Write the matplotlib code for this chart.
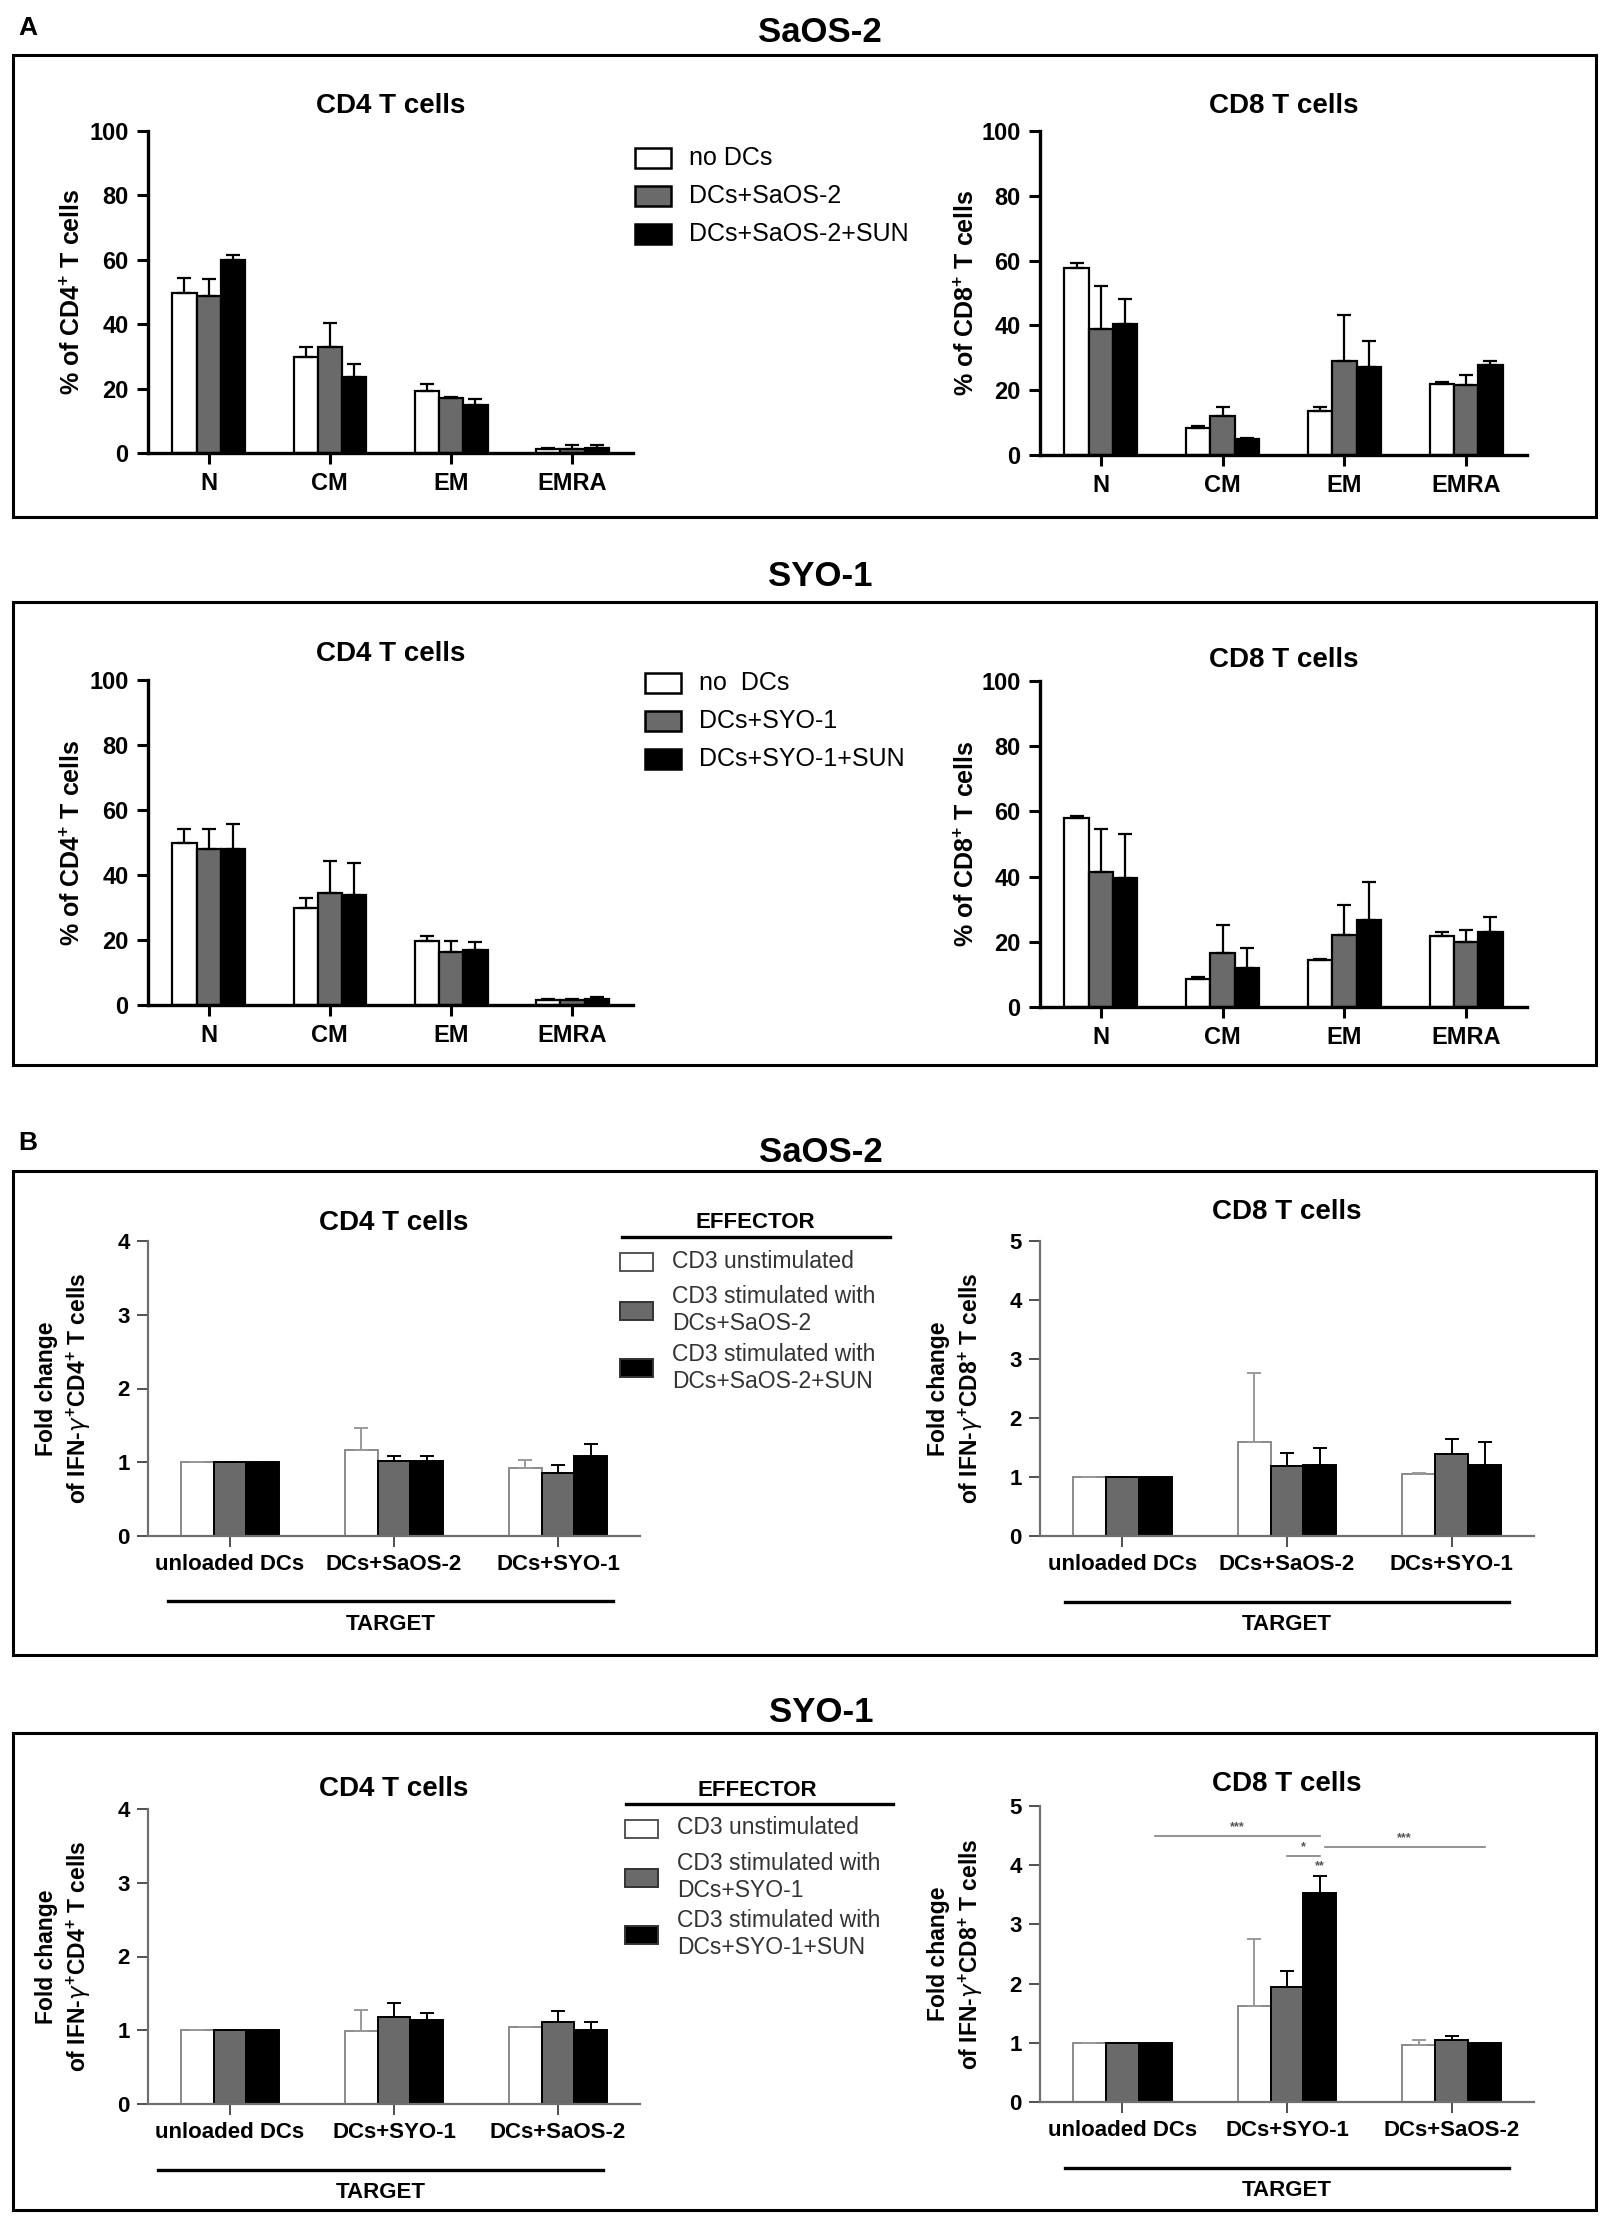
import numpy as np
import matplotlib
matplotlib.use("Agg")
import matplotlib.pyplot as plt
from matplotlib.patches import Rectangle
from matplotlib.lines import Line2D

NARROW = ['Liberation Sans Narrow', 'Liberation Sans', 'DejaVu Sans']
SANS = ['Liberation Sans', 'DejaVu Sans']
plt.rcParams['font.family'] = SANS
plt.rcParams['mathtext.fontset'] = 'custom'
plt.rcParams['mathtext.bf'] = 'Liberation Sans:bold'
plt.rcParams['mathtext.rm'] = 'Liberation Sans:bold'

# ---- data (A: memory subsets, % of T cells) ----
subsets = ["N", "CM", "EM", "EMRA"]

saos_cd4_none = [49.6, 29.8, 19.4, 1.1]
saos_cd4_none_sd = [4.8, 3.2, 2.0, 0.6]
saos_cd4_dc = [48.9, 33.0, 17.1, 1.2]
saos_cd4_dc_sd = [5.2, 7.3, 0.4, 1.3]
saos_cd4_sun = [59.8, 23.6, 15.0, 1.4]
saos_cd4_sun_sd = [1.8, 4.1, 1.9, 1.1]

saos_cd8_none = [57.8, 8.3, 13.6, 21.8]
saos_cd8_none_sd = [1.4, 0.5, 1.2, 0.8]
saos_cd8_dc = [39.0, 12.0, 29.0, 21.7]
saos_cd8_dc_sd = [13.3, 2.8, 14.3, 3.0]
saos_cd8_sun = [40.4, 4.9, 27.1, 27.9]
saos_cd8_sun_sd = [7.8, 0.3, 8.2, 1.1]

syo_cd4_none = [49.7, 29.8, 19.6, 1.6]
syo_cd4_none_sd = [4.6, 3.2, 1.6, 0.3]
syo_cd4_dc = [47.9, 34.4, 16.4, 1.6]
syo_cd4_dc_sd = [6.3, 9.8, 3.2, 0.3]
syo_cd4_sun = [47.9, 33.9, 16.9, 1.8]
syo_cd4_sun_sd = [7.7, 9.7, 2.4, 0.8]

syo_cd8_none = [57.9, 8.5, 14.3, 21.9]
syo_cd8_none_sd = [0.8, 0.7, 0.5, 1.1]
syo_cd8_dc = [41.5, 16.7, 22.0, 19.9]
syo_cd8_dc_sd = [13.2, 8.4, 9.2, 3.6]
syo_cd8_sun = [39.7, 12.0, 26.8, 23.0]
syo_cd8_sun_sd = [13.4, 6.0, 11.5, 4.7]

# ---- data (B: fold change IFN-g) ----
targets_saos = ["unloaded DCs", "DCs+SaOS-2", "DCs+SYO-1"]
targets_syo = ["unloaded DCs", "DCs+SYO-1", "DCs+SaOS-2"]

b_saos_cd4_unst = [1.0, 1.16, 0.92]
b_saos_cd4_unst_sd = [0.0, 0.30, 0.11]
b_saos_cd4_dc = [1.0, 1.02, 0.85]
b_saos_cd4_dc_sd = [0.0, 0.07, 0.11]
b_saos_cd4_sun = [1.0, 1.02, 1.09]
b_saos_cd4_sun_sd = [0.0, 0.07, 0.16]

b_saos_cd8_unst = [1.0, 1.60, 1.05]
b_saos_cd8_unst_sd = [0.0, 1.16, 0.02]
b_saos_cd8_dc = [1.0, 1.19, 1.39]
b_saos_cd8_dc_sd = [0.0, 0.21, 0.25]
b_saos_cd8_sun = [1.0, 1.21, 1.21]
b_saos_cd8_sun_sd = [0.0, 0.28, 0.39]

b_syo_cd4_unst = [1.0, 0.99, 1.04]
b_syo_cd4_unst_sd = [0.0, 0.28, 0.01]
b_syo_cd4_dc = [1.0, 1.18, 1.11]
b_syo_cd4_dc_sd = [0.0, 0.19, 0.15]
b_syo_cd4_sun = [1.0, 1.14, 1.01]
b_syo_cd4_sun_sd = [0.0, 0.10, 0.10]

b_syo_cd8_unst = [1.0, 1.63, 0.97]
b_syo_cd8_unst_sd = [0.0, 1.12, 0.08]
b_syo_cd8_dc = [0.99, 1.95, 1.05]
b_syo_cd8_dc_sd = [0.0, 0.26, 0.07]
b_syo_cd8_sun = [0.99, 3.53, 0.99]
b_syo_cd8_sun_sd = [0.0, 0.28, 0.01]

# significance brackets in SYO-1 CD8 panel: (x start, x end, y, label)
sig_brackets = [(0.2, 1.2, 4.50, "***"), (1.0, 1.2, 4.16, "*"), (1.23, 2.2, 4.31, "***")]
sig_star = (1.2, 3.88, "**")

legend_a_saos = ["no DCs", "DCs+SaOS-2", "DCs+SaOS-2+SUN"]
legend_a_syo = ["no  DCs", "DCs+SYO-1", "DCs+SYO-1+SUN"]
legend_b_saos = ["CD3 unstimulated", "CD3 stimulated with\nDCs+SaOS-2", "CD3 stimulated with\nDCs+SaOS-2+SUN"]
legend_b_syo = ["CD3 unstimulated", "CD3 stimulated with\nDCs+SYO-1", "CD3 stimulated with\nDCs+SYO-1+SUN"]

FILLS = ["white", "#6a6a6a", "black"]
OFFS = [-0.2, 0.0, 0.2]

W, H = 1613, 2218
fig = plt.figure(figsize=(W / 100, H / 100), dpi=100)


def fx(x):
    return x / W


def fy(y):
    return 1 - y / H


def axes_px(x0, y0, x1, y1):
    return fig.add_axes([fx(x0), fy(y1), (x1 - x0) / W, (y1 - y0) / H])


def fig_line(x0, x1, y, lw=2.5, color="black"):
    fig.add_artist(Line2D([fx(x0), fx(x1)], [fy(y), fy(y)], transform=fig.transFigure,
                          color=color, lw=lw))


def frame(x0, y0, x1, y1):
    fig.add_artist(Rectangle((fx(x0), fy(y1)), (x1 - x0) / W, (y1 - y0) / H,
                             transform=fig.transFigure, fill=False, ec="black", lw=2.2))


def draw_bars(ax, cats, series, sds, edge_white, ecol_white, lw):
    x = np.arange(len(cats))
    for i in range(3):
        ec = edge_white if i == 0 else "black"
        ax.bar(x + OFFS[i], series[i], width=0.2, color=FILLS[i], edgecolor=ec,
               linewidth=lw, zorder=2)
        err = [np.zeros(len(cats)), np.array(sds[i])]
        ax.errorbar(x + OFFS[i], series[i], yerr=err, fmt="none",
                    ecolor=ecol_white if i == 0 else "black", elinewidth=lw,
                    capsize=5, capthick=lw, zorder=3)
    ax.set_xticks(x)
    ax.set_xlim(-0.5, len(cats) - 0.5)


def panel_a(box, title, ylabel, series, sds, pad, labx):
    ax = axes_px(*box)
    draw_bars(ax, subsets, series, sds, "black", "black", 1.6)
    ax.set_ylim(0, 100)
    ax.set_yticks([0, 20, 40, 60, 80, 100])
    ax.set_xticklabels(subsets, family=NARROW, fontweight="bold", fontsize=17)
    for t in ax.get_yticklabels():
        t.set_family(NARROW)
        t.set_fontweight("bold")
        t.set_fontsize(17)
    for s in ["top", "right"]:
        ax.spines[s].set_visible(False)
    for s in ["left", "bottom"]:
        ax.spines[s].set_linewidth(2.4)
    ax.tick_params(direction="out", length=8, width=2.2, pad=6)
    ax.set_title(title, family=NARROW, fontweight="bold", fontsize=20, pad=pad)
    ax.set_ylabel(ylabel, fontweight="bold", fontsize=18)
    ax.yaxis.set_label_coords(labx, 0.5)
    return ax


def panel_b(box, title, ylabel, cats, series, sds, ymax, pad):
    ax = axes_px(*box)
    draw_bars(ax, cats, series, sds, "#8a8a8a", "#9a9a9a", 1.4)
    ax.set_ylim(0, ymax)
    ax.set_yticks(range(ymax + 1))
    ax.set_xticklabels(cats, family=NARROW, fontweight="bold", fontsize=16)
    for t in ax.get_yticklabels():
        t.set_family(NARROW)
        t.set_fontweight("bold")
        t.set_fontsize(16)
    for s in ["top", "right"]:
        ax.spines[s].set_visible(False)
    for s in ["left", "bottom"]:
        ax.spines[s].set_linewidth(1.6)
        ax.spines[s].set_color("#707070")
    ax.tick_params(direction="out", length=8, width=1.4, pad=5, color="#505050")
    ax.set_title(title, family=NARROW, fontweight="bold", fontsize=20, pad=pad)
    ax.set_ylabel(ylabel, fontweight="bold", fontsize=16.5, linespacing=1.3)
    ax.yaxis.set_label_coords(-0.112, 0.5)
    return ax


def legend_a(x_sq, x_txt, ys, labels):
    for i, (y, lab) in enumerate(zip(ys, labels)):
        fig.add_artist(Rectangle((fx(x_sq), fy(y + 10)), 36 / W, 20 / H, transform=fig.transFigure,
                                 fc=FILLS[i], ec="black", lw=1.8))
        fig.text(fx(x_txt), fy(y), lab, family=NARROW, fontsize=18, va="center", ha="left")


def legend_b(x_sq, x_txt, sq_ys, txt_ys, labels, eff_x, eff_y, line_y, lx0, lx1):
    fig.text(fx(eff_x), fy(eff_y), "EFFECTOR", family=NARROW, fontweight="bold", fontsize=16,
             ha="center", va="center")
    fig_line(lx0, lx1, line_y, lw=2.4)
    for i, (y, lab) in enumerate(zip(sq_ys, labels)):
        fig.add_artist(Rectangle((fx(x_sq), fy(y + 9)), 33 / W, 18 / H, transform=fig.transFigure,
                                 fc=FILLS[i], ec="#333333" if i else "#555555", lw=1.4))
        fig.text(fx(x_txt), fy(txt_ys[i]), lab, family=NARROW, fontsize=16.5, va="center",
                 ha="left", color="#333333", linespacing=1.25)


def target(x0, x1, y_line, y_text):
    fig_line(x0, x1, y_line, lw=2.4)
    fig.text(fx((x0 + x1) / 2), fy(y_text), "TARGET", family=NARROW, fontweight="bold",
             fontsize=16, ha="center", va="center")


# ---------------- A ----------------
fig.text(fx(18), fy(28), "A", fontweight="bold", fontsize=19, va="center", ha="left")
fig.text(fx(820), fy(32), "SaOS-2", fontweight="bold", fontsize=25, va="center", ha="center")
frame(13, 55, 1596, 517)
panel_a((148, 131, 633, 453), "CD4 T cells", r"% of CD4$^{+}$ T cells",
        [saos_cd4_none, saos_cd4_dc, saos_cd4_sun],
        [saos_cd4_none_sd, saos_cd4_dc_sd, saos_cd4_sun_sd], 13, -0.13)
panel_a((1040, 131, 1527, 455), "CD8 T cells", r"% of CD8$^{+}$ T cells",
        [saos_cd8_none, saos_cd8_dc, saos_cd8_sun],
        [saos_cd8_none_sd, saos_cd8_dc_sd, saos_cd8_sun_sd], 13, -0.125)
legend_a(635, 689, [158, 196, 234], legend_a_saos)

fig.text(fx(820), fy(576), "SYO-1", fontweight="bold", fontsize=25, va="center", ha="center")
frame(13, 602, 1596, 1065)
panel_a((148, 680, 633, 1005), "CD4 T cells", r"% of CD4$^{+}$ T cells",
        [syo_cd4_none, syo_cd4_dc, syo_cd4_sun],
        [syo_cd4_none_sd, syo_cd4_dc_sd, syo_cd4_sun_sd], 14, -0.13)
panel_a((1040, 681, 1527, 1007), "CD8 T cells", r"% of CD8$^{+}$ T cells",
        [syo_cd8_none, syo_cd8_dc, syo_cd8_sun],
        [syo_cd8_none_sd, syo_cd8_dc_sd, syo_cd8_sun_sd], 10, -0.125)
legend_a(645, 699, [683, 721, 759], legend_a_syo)

# ---------------- B ----------------
fig.text(fx(18), fy(1143), "B", fontweight="bold", fontsize=19, va="center", ha="left")
fig.text(fx(821), fy(1152), "SaOS-2", fontweight="bold", fontsize=25, va="center", ha="center")
frame(13, 1171, 1596, 1655)
panel_b((148, 1241, 640, 1536), "CD4 T cells", "Fold change\n" + r"of IFN-$\gamma^{+}$CD4$^{+}$ T cells",
        targets_saos, [b_saos_cd4_unst, b_saos_cd4_dc, b_saos_cd4_sun],
        [b_saos_cd4_unst_sd, b_saos_cd4_dc_sd, b_saos_cd4_sun_sd], 4, 8)
panel_b((1040, 1241, 1534, 1536), "CD8 T cells", "Fold change\n" + r"of IFN-$\gamma^{+}$CD8$^{+}$ T cells",
        targets_saos, [b_saos_cd8_unst, b_saos_cd8_dc, b_saos_cd8_sun],
        [b_saos_cd8_unst_sd, b_saos_cd8_dc_sd, b_saos_cd8_sun_sd], 5, 16)
legend_b(620, 672, [1262, 1311, 1368], [1261, 1310, 1368], legend_b_saos,
         755, 1223, 1237, 622, 890)
target(168, 613, 1601, 1624)
target(1065, 1509, 1602, 1624)

fig.text(fx(821), fy(1712), "SYO-1", fontweight="bold", fontsize=25, va="center", ha="center")
frame(13, 1733, 1596, 2210)
panel_b((148, 1809, 640, 2104), "CD4 T cells", "Fold change\n" + r"of IFN-$\gamma^{+}$CD4$^{+}$ T cells",
        targets_syo, [b_syo_cd4_unst, b_syo_cd4_dc, b_syo_cd4_sun],
        [b_syo_cd4_unst_sd, b_syo_cd4_dc_sd, b_syo_cd4_sun_sd], 4, 9)
ax8 = panel_b((1040, 1806, 1534, 2102), "CD8 T cells", "Fold change\n" + r"of IFN-$\gamma^{+}$CD8$^{+}$ T cells",
              targets_syo, [b_syo_cd8_unst, b_syo_cd8_dc, b_syo_cd8_sun],
              [b_syo_cd8_unst_sd, b_syo_cd8_dc_sd, b_syo_cd8_sun_sd], 5, 11)
legend_b(625, 677, [1829, 1878, 1935], [1827, 1877, 1934], legend_b_syo,
         757, 1790, 1804, 626, 893)
target(158, 603, 2170, 2192)
target(1065, 1509, 2168, 2191)

for x0, x1, y, lab in sig_brackets:
    ax8.plot([x0, x1], [y, y], color="#808080", lw=1.2, clip_on=False)
    ax8.text((x0 + x1) / 2, y + 0.04, lab, ha="center", va="bottom", fontsize=9,
             fontweight="bold", color="#555555")
ax8.text(sig_star[0], sig_star[1], sig_star[2], ha="center", va="bottom", fontsize=9,
         fontweight="bold", color="#555555")

fig.savefig("out.png", dpi=100, facecolor="white")
